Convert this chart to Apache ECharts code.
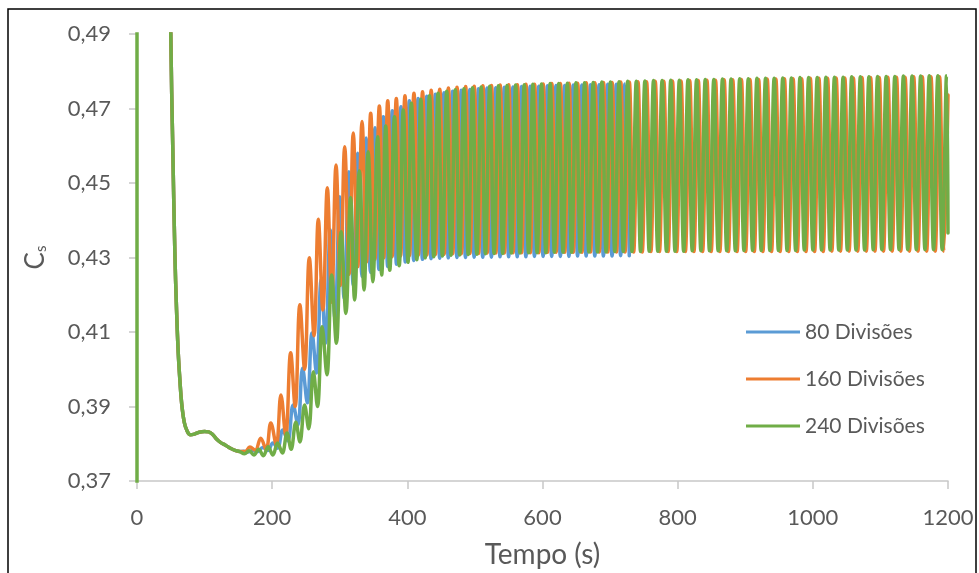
<!DOCTYPE html>
<html>
<head>
<meta charset="utf-8">
<script src="https://cdn.jsdelivr.net/npm/echarts@6/dist/echarts.min.js"></script>
<style>
  html, body { margin: 0; padding: 0; background: #fff; }
  #chart { width: 979px; height: 573px; }
</style>
</head>
<body>
<div id="chart"></div>
<script>
// legenda
var seriesNames = ['80 Divisões', '160 Divisões', '240 Divisões']
var seriesColors = ['#5B9BD5', '#ED7D31', '#70AD47']

// queda inicial (comum às três malhas) [t, Cs]
var headCurve = [
  [47, 0.56], [50, 0.49], [53, 0.459], [56, 0.4315], [58.5, 0.416], [61, 0.4045],
  [63.5, 0.397], [66, 0.391], [70, 0.3857], [74, 0.3835], [79, 0.3824], [85, 0.3826],
  [92, 0.3831], [100, 0.3833], [106, 0.3832], [112, 0.3825], [118, 0.3812], [124, 0.3803],
  [131, 0.3796], [138, 0.3788], [145, 0.3782], [152, 0.3779]
]

// traço vertical da série verde em t = 0
var greenLead = [[0, 0.30], [0, 0.62]]

// 80 divisões
var blueWave = [
  [158, 0.3780], [164, 0.3778], [171, 0.3782], [178.5, 0.3779], [186, 0.3790], [193.5, 0.3782],
  [201, 0.3802], [208, 0.3788], [215.6, 0.3837], [223, 0.3808], [231, 0.3904], [238, 0.3850],
  [245, 0.4003], [252, 0.3910], [259, 0.4097], [265.5, 0.3990], [272.5, 0.4240], [279, 0.4070],
  [286, 0.4374], [293, 0.4135], [300, 0.4463], [306.5, 0.4190], [313.5, 0.4530], [320, 0.4225],
  [326.5, 0.4580], [333, 0.4249], [339, 0.4621], [345.5, 0.4260], [352, 0.4648], [358, 0.4268],
  [364.5, 0.4678], [371, 0.4276], [377.8, 0.4694], [384, 0.4282], [390.6, 0.4705], [397, 0.4288],
  [403, 0.4721], [409.5, 0.4292],
  [416, 0.4727], [422.4, 0.4295], [428.8, 0.4733], [435.1, 0.4297], [441.5, 0.4738], [447.9, 0.4298],
  [454.3, 0.4742], [460.6, 0.4299], [467, 0.4746], [473.4, 0.4300], [479.8, 0.4749], [486.1, 0.4300],
  [492.5, 0.4751], [498.9, 0.4301], [505.3, 0.4753], [511.6, 0.4301], [518, 0.4755], [524.4, 0.4301],
  [530.8, 0.4756], [537.1, 0.4302], [543.5, 0.4757], [549.9, 0.4302], [556.3, 0.4758], [562.6, 0.4302],
  [569, 0.4759], [575.4, 0.4302], [581.8, 0.4760], [588.1, 0.4303], [594.5, 0.4760], [600.9, 0.4303],
  [607.3, 0.4761], [613.6, 0.4303], [620, 0.4762], [626.4, 0.4303], [632.8, 0.4762], [639.1, 0.4303],
  [645.5, 0.4763], [651.9, 0.4304], [658.3, 0.4763], [664.6, 0.4304], [671, 0.4764], [677.4, 0.4304],
  [683.8, 0.4764], [690.1, 0.4304], [696.5, 0.4765], [702.9, 0.4304], [709.3, 0.4765], [715.6, 0.4305],
  [722, 0.4766], [728.4, 0.4305]
]

// 160 divisões
var orangeWave = [
  [160, 0.3779], [167, 0.3791], [175, 0.3783], [183, 0.3815], [191, 0.3784], [198, 0.3856],
  [206, 0.3797], [213, 0.3931], [220, 0.3822], [227.4, 0.4044], [234, 0.3900], [241, 0.4173],
  [248, 0.4000], [255, 0.4299], [262, 0.4090], [268.3, 0.4403], [275, 0.4159], [281.6, 0.4487],
  [288, 0.4180], [294.5, 0.4548], [301, 0.4225], [307.3, 0.4597], [314, 0.4255], [320, 0.4634],
  [326.5, 0.4275], [333, 0.4665], [339.4, 0.4288], [345.8, 0.4687], [352, 0.4295], [358.6, 0.4707],
  [365, 0.4299], [371, 0.4721], [377.4, 0.4302], [383.7, 0.4727], [390, 0.4304], [396.5, 0.4734],
  [403, 0.4305], [409.8, 0.4741], [416.2, 0.4306],
  [422.5, 0.4745], [428.9, 0.4307], [435.3, 0.4749], [441.6, 0.4308], [448, 0.4752], [454.4, 0.4309],
  [460.8, 0.4755], [467.1, 0.4310], [473.5, 0.4757], [479.9, 0.4310], [486.3, 0.4759], [492.6, 0.4311],
  [499, 0.4760], [505.4, 0.4311], [511.8, 0.4761], [518.1, 0.4312], [524.5, 0.4762], [530.9, 0.4312],
  [537.3, 0.4763], [543.6, 0.4312], [550, 0.4764], [556.4, 0.4313], [562.8, 0.4764], [569.1, 0.4313],
  [575.5, 0.4765], [581.9, 0.4313], [588.3, 0.4765], [594.6, 0.4313], [601, 0.4766], [607.4, 0.4314],
  [613.8, 0.4767], [620.1, 0.4314], [626.5, 0.4767], [632.9, 0.4314], [639.3, 0.4768], [645.6, 0.4314],
  [652, 0.4768], [658.4, 0.4314], [664.8, 0.4769], [671.1, 0.4315], [677.5, 0.4769], [683.9, 0.4315],
  [690.3, 0.4770], [696.6, 0.4315], [703, 0.4770], [709.4, 0.4315], [715.8, 0.4771], [722.1, 0.4315],
  [728.5, 0.4771], [734.9, 0.4315], [741.3, 0.4772], [747.6, 0.4315], [754, 0.4772], [760.4, 0.4316],
  [766.8, 0.4773], [773.1, 0.4316], [779.5, 0.4773], [785.9, 0.4316], [792.3, 0.4774], [798.6, 0.4316],
  [805, 0.4774], [811.4, 0.4316], [817.8, 0.4775], [824.1, 0.4316], [830.5, 0.4775], [836.9, 0.4316],
  [843.3, 0.4776], [849.6, 0.4316], [856, 0.4776], [862.4, 0.4316], [868.8, 0.4777], [875.1, 0.4316],
  [881.5, 0.4777], [887.9, 0.4316], [894.3, 0.4778], [900.6, 0.4316], [907, 0.4778], [913.4, 0.4316],
  [919.8, 0.4778], [926.1, 0.4316], [932.5, 0.4779], [938.9, 0.4316], [945.3, 0.4779], [951.6, 0.4316],
  [958, 0.4780], [964.4, 0.4316], [970.8, 0.4780], [977.1, 0.4316], [983.5, 0.4780], [989.9, 0.4316],
  [996.3, 0.4781], [1002.6, 0.4316], [1009, 0.4781], [1015.4, 0.4316], [1021.8, 0.4781], [1028.1, 0.4317],
  [1034.5, 0.4782], [1040.9, 0.4317], [1047.3, 0.4782], [1053.6, 0.4317], [1060, 0.4782], [1066.4, 0.4317],
  [1072.8, 0.4783], [1079.1, 0.4317], [1085.5, 0.4783], [1091.9, 0.4317], [1098.3, 0.4783], [1104.6, 0.4317],
  [1111, 0.4784], [1117.4, 0.4317], [1123.8, 0.4784], [1130.1, 0.4317], [1136.5, 0.4784], [1142.9, 0.4317],
  [1149.3, 0.4785], [1155.6, 0.4317], [1162, 0.4785], [1168.4, 0.4317], [1174.8, 0.4785], [1181.1, 0.4317],
  [1187.5, 0.4785], [1193.9, 0.4317], [1200, 0.4736]
]

// 240 divisões
var greenWave = [
  [159, 0.3773], [166, 0.3781], [173, 0.3770], [180, 0.3785], [187, 0.3768], [194, 0.3792],
  [201, 0.3770], [208, 0.3802], [215, 0.3775], [222, 0.3829], [228, 0.3785], [235, 0.3858],
  [241, 0.3805], [248, 0.3904], [254, 0.3840], [261, 0.3993], [267, 0.3900], [274, 0.4114],
  [281, 0.3985], [288, 0.4253], [295, 0.4070], [302, 0.4369], [309, 0.4150], [316, 0.4461],
  [322, 0.4186], [329, 0.4533], [336, 0.4213], [342, 0.4584], [349, 0.4235], [356, 0.4624],
  [362, 0.4253], [368, 0.4653], [374, 0.4266], [381, 0.4678], [388, 0.4278], [394, 0.4696],
  [401, 0.4287], [406, 0.4714], [414, 0.4294],
  [420, 0.4725], [426.4, 0.4299], [432.8, 0.4734], [439.1, 0.4302], [445.5, 0.4741], [451.9, 0.4304],
  [458.3, 0.4746], [464.6, 0.4306], [471, 0.4750], [477.4, 0.4307], [483.8, 0.4753], [490.1, 0.4308],
  [496.5, 0.4756], [502.9, 0.4309], [509.3, 0.4758], [515.6, 0.4310], [522, 0.4760], [528.4, 0.4311],
  [534.8, 0.4761], [541.1, 0.4311], [547.5, 0.4762], [553.9, 0.4312], [560.3, 0.4763], [566.6, 0.4312],
  [573, 0.4764], [579.4, 0.4313], [585.8, 0.4765], [592.1, 0.4313], [598.5, 0.4766], [604.9, 0.4313],
  [611.3, 0.4767], [617.6, 0.4314], [624, 0.4767], [630.4, 0.4314], [636.8, 0.4768], [643.1, 0.4314],
  [649.5, 0.4769], [655.9, 0.4315], [662.3, 0.4769], [668.6, 0.4315], [675, 0.4770], [681.4, 0.4315],
  [687.8, 0.4771], [694.1, 0.4315], [700.5, 0.4771], [706.9, 0.4316], [713.3, 0.4772], [719.6, 0.4316],
  [726, 0.4773], [732.4, 0.4316], [738.8, 0.4773], [745.1, 0.4316], [751.5, 0.4774], [757.9, 0.4317],
  [764.3, 0.4775], [770.6, 0.4317], [777, 0.4775], [783.4, 0.4317], [789.8, 0.4776], [796.1, 0.4317],
  [802.5, 0.4776], [808.9, 0.4317], [815.3, 0.4777], [821.6, 0.4318], [828, 0.4777], [834.4, 0.4318],
  [840.8, 0.4778], [847.1, 0.4318], [853.5, 0.4778], [859.9, 0.4318], [866.3, 0.4779], [872.6, 0.4318],
  [879, 0.4779], [885.4, 0.4318], [891.8, 0.4780], [898.1, 0.4319], [904.5, 0.4780], [910.9, 0.4319],
  [917.3, 0.4781], [923.6, 0.4319], [930, 0.4781], [936.4, 0.4319], [942.8, 0.4781], [949.1, 0.4319],
  [955.5, 0.4782], [961.9, 0.4319], [968.3, 0.4782], [974.6, 0.4319], [981, 0.4783], [987.4, 0.4320],
  [993.8, 0.4783], [1000.1, 0.4320], [1006.5, 0.4783], [1012.9, 0.4320], [1019.3, 0.4784], [1025.6, 0.4320],
  [1032, 0.4784], [1038.4, 0.4320], [1044.8, 0.4784], [1051.1, 0.4320], [1057.5, 0.4785], [1063.9, 0.4320],
  [1070.3, 0.4785], [1076.6, 0.4320], [1083, 0.4785], [1089.4, 0.4321], [1095.8, 0.4786], [1102.1, 0.4321],
  [1108.5, 0.4786], [1114.9, 0.4321], [1121.3, 0.4786], [1127.6, 0.4321], [1134, 0.4787], [1140.4, 0.4321],
  [1146.8, 0.4787], [1153.1, 0.4321], [1159.5, 0.4787], [1165.9, 0.4321], [1172.3, 0.4788], [1178.6, 0.4321],
  [1185, 0.4788], [1191.4, 0.4321], [1197.8, 0.4788], [1200, 0.4366]
]

var textColor = '#595959'
var axisColor = '#C8C8C8'
var fontFamily = 'Lato, "Open Sans", sans-serif'

var seriesData = [
  headCurve.concat(blueWave),
  headCurve.concat(orangeWave),
  greenLead.concat(headCurve, greenWave)
]

var series = seriesData.map(function (d, i) {
  return {
    name: seriesNames[i],
    type: 'line',
    data: d,
    symbol: 'none',
    showSymbol: false,
    smooth: 0.4,
    color: seriesColors[i],
    lineStyle: { width: 3.5, color: seriesColors[i], join: 'round', cap: 'round' }
  }
})

var chart = echarts.init(document.getElementById('chart'))
chart.setOption({
  animation: false,
  backgroundColor: '#fff',
  textStyle: { fontFamily: fontFamily },
  graphic: [{
    type: 'rect',
    shape: { x: 8, y: 9, width: 968, height: 600 },
    style: { fill: 'none', stroke: '#000', lineWidth: 1.5 },
    silent: true
  }],
  grid: { left: 137, right: 31, top: 34, bottom: 92, containLabel: false, outerBoundsMode: 'none' },
  legend: {
    orient: 'vertical',
    left: 746,
    top: 320,
    padding: 0,
    icon: 'rect',
    itemWidth: 54,
    itemHeight: 3,
    itemGap: 23,
    data: seriesNames,
    textStyle: { fontSize: 21, color: textColor, fontFamily: fontFamily, lineHeight: 24 }
  },
  xAxis: {
    type: 'value',
    min: 0,
    max: 1200,
    interval: 200,
    name: 'Tempo (s)',
    nameLocation: 'middle',
    nameGap: 60,
    nameTextStyle: { fontSize: 28, color: textColor, fontFamily: fontFamily },
    axisLine: { show: true, lineStyle: { color: axisColor, width: 1.5 } },
    axisTick: { show: true, length: 8, lineStyle: { color: axisColor, width: 1.5 } },
    axisLabel: {
      margin: 26, fontSize: 22, color: textColor, fontFamily: fontFamily,
      formatter: function (v) { return String(v) }
    },
    splitLine: { show: false }
  },
  yAxis: {
    type: 'value',
    min: 0.37,
    max: 0.49,
    interval: 0.02,
    name: 'C{s|s}',
    nameLocation: 'middle',
    nameRotate: 90,
    nameGap: 88,
    nameTextStyle: {
      fontSize: 26, color: textColor, fontFamily: fontFamily,
      rich: { s: { fontSize: 15, color: textColor, fontFamily: fontFamily, padding: [10, 0, 0, 0] } }
    },
    axisLine: { show: true, lineStyle: { color: axisColor, width: 1.5 } },
    axisTick: { show: true, length: 8, lineStyle: { color: axisColor, width: 1.5 } },
    axisLabel: {
      margin: 26, fontSize: 22, color: textColor, fontFamily: fontFamily,
      formatter: function (v) { return v.toFixed(2).replace('.', ',') }
    },
    splitLine: { show: false }
  },
  series: series
})
</script>
</body>
</html>
